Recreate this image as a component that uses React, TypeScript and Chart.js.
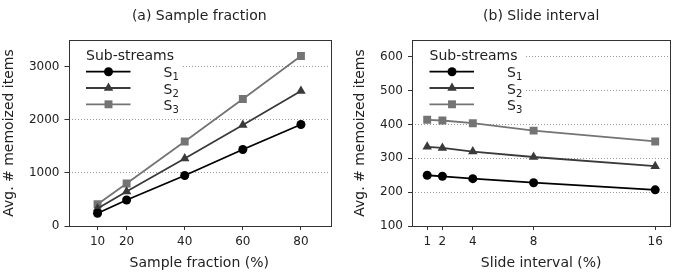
import React, { useEffect, useRef } from 'react';
import { Chart, registerables } from 'chart.js';

Chart.register(...registerables);

// ---- data ----
const seriesBase = 'S';
const seriesSubs = ['1', '2', '3'];
const seriesColors = ['#000000', '#3a3a3a', '#747474'];
const seriesStyles = ['circle', 'triangle', 'rect'];

const sampleFraction = [10, 20, 40, 60, 80];
const sfS1 = [240, 490, 950, 1440, 1910];
const sfS2 = [330, 650, 1270, 1900, 2540];
const sfS3 = [410, 800, 1590, 2390, 3200];
const sfYTicks = [0, 1000, 2000, 3000];

const slideInterval = [1, 2, 4, 8, 16];
const siS1 = [250, 247, 240, 228, 207];
const siS2 = [334, 331, 320, 304, 277];
const siS3 = [414, 412, 404, 382, 350];
const siYTicks = [100, 200, 300, 400, 500, 600];

const FONT = '"DejaVu Sans", sans-serif';
const TEXT = '#222222';

type PanelCfg = {
  title: string;
  xTitle: string;
  yTitle: string;
  xs: number[];
  ys: number[][];
  yTicks: number[];
  xMin: number;
  xMax: number;
  yMin: number;
  yMax: number;
  left: number;
  right: number;
  yTitleX: number;
};

const radii = [4.5, 5.5, 5.6];

function drawMarker(ctx: CanvasRenderingContext2D, style: string, x: number, y: number, r: number, color: string) {
  ctx.save();
  ctx.fillStyle = color;
  ctx.beginPath();
  if (style === 'circle') {
    ctx.arc(x, y, r, 0, Math.PI * 2);
  } else if (style === 'triangle') {
    ctx.moveTo(x, y - r);
    ctx.lineTo(x + Math.sin(Math.PI * 2 / 3) * r, y + r / 2);
    ctx.lineTo(x - Math.sin(Math.PI * 2 / 3) * r, y + r / 2);
    ctx.closePath();
  } else {
    const s = Math.SQRT1_2 * r;
    ctx.rect(x - s, y - s, 2 * s, 2 * s);
  }
  ctx.fill();
  ctx.restore();
}

function makeDecor(cfg: PanelCfg) {
  return {
    id: 'decor',
    beforeDatasetsDraw(chart: any) {
      const { ctx, chartArea: a } = chart;
      ctx.save();
      ctx.font = `14px ${FONT}`;
      const w = Math.max(ctx.measureText('Sub-streams').width + 18, 101) + 6;
      ctx.fillStyle = '#ffffff';
      ctx.fillRect(a.left + 1, a.top + 1, w, 73);
      ctx.restore();
    },
    afterDatasetsDraw(chart: any) {
      const { ctx, chartArea: a } = chart;
      ctx.save();
      ctx.fillStyle = TEXT;
      ctx.font = `14px ${FONT}`;
      ctx.textAlign = 'left';
      ctx.textBaseline = 'alphabetic';
      ctx.fillText('Sub-streams', a.left + 17.5, a.top + 20);
      chart.data.datasets.forEach((ds: any, i: number) => {
        const y = a.top + 31.7 + i * 16.3;
        ctx.save();
        ctx.strokeStyle = seriesColors[i];
        ctx.lineWidth = 1.8;
        ctx.beginPath();
        ctx.moveTo(a.left + 17.5, y);
        ctx.lineTo(a.left + 62, y);
        ctx.stroke();
        ctx.restore();
        drawMarker(ctx, seriesStyles[i], a.left + 40, y, radii[i], seriesColors[i]);
        ctx.fillStyle = TEXT;
        ctx.font = `14px ${FONT}`;
        const sx = a.left + 95;
        ctx.fillText(seriesBase, sx, y + 5.5);
        const sw = ctx.measureText(seriesBase).width;
        ctx.font = `10px ${FONT}`;
        ctx.fillText(seriesSubs[i], sx + sw, y + 8.5);
      });
      ctx.restore();
    },
    afterDraw(chart: any) {
      const { ctx, chartArea: a } = chart;
      ctx.save();
      ctx.strokeStyle = '#333333';
      ctx.lineWidth = 1;
      ctx.strokeRect(Math.round(a.left) + 0.5, Math.round(a.top) + 0.5, Math.round(a.right - a.left), Math.round(a.bottom - a.top));
      ctx.fillStyle = TEXT;
      ctx.font = `14px ${FONT}`;
      ctx.textAlign = 'center';
      ctx.textBaseline = 'alphabetic';
      const cx = (a.left + a.right) / 2;
      ctx.fillText(cfg.title, cx, 20);
      ctx.fillText(cfg.xTitle, cx, 267);
      ctx.translate(cfg.yTitleX, (a.top + a.bottom) / 2);
      ctx.rotate(-Math.PI / 2);
      ctx.fillText(cfg.yTitle, 0, 0);
      ctx.restore();
    },
  };
}

function Panel({ cfg }: { cfg: PanelCfg }) {
  const ref = useRef<HTMLCanvasElement>(null);
  useEffect(() => {
    if (!ref.current) return;
    const chart = new Chart(ref.current, {
      type: 'line',
      data: {
        datasets: cfg.ys.map((ys, i) => ({
          label: seriesBase + seriesSubs[i],
          data: cfg.xs.map((x, j) => ({ x, y: ys[j] })),
          borderColor: seriesColors[i],
          backgroundColor: seriesColors[i],
          borderWidth: 1.8,
          pointStyle: seriesStyles[i] as any,
          pointRadius: radii[i],
          pointBorderWidth: 0,
          pointBackgroundColor: seriesColors[i],
          tension: 0,
          fill: false,
        })),
      },
      options: {
        responsive: false,
        animation: false,
        events: [],
        layout: { padding: { left: 0, top: 40, right: cfg.right, bottom: 0 } },
        plugins: { legend: { display: false }, title: { display: false }, tooltip: { enabled: false } },
        scales: {
          x: {
            type: 'linear',
            min: cfg.xMin,
            max: cfg.xMax,
            afterBuildTicks: (s: any) => { s.ticks = cfg.xs.map((v) => ({ value: v })); },
            afterFit: (s: any) => { s.height = 51; },
            grid: { drawOnChartArea: false, drawTicks: true, tickLength: 4, tickColor: '#333333', color: '#333333' },
            border: { display: false },
            ticks: { font: { family: FONT, size: 12 }, color: TEXT, padding: 5, maxRotation: 0, autoSkip: false, callback: (v: any) => String(v) },
          },
          y: {
            type: 'linear',
            min: cfg.yMin,
            max: cfg.yMax,
            afterBuildTicks: (s: any) => { s.ticks = cfg.yTicks.map((v) => ({ value: v })); },
            afterFit: (s: any) => { s.width = cfg.left; },
            grid: { drawOnChartArea: true, drawTicks: true, tickLength: 4, tickColor: '#333333', color: '#9a9a9a', lineWidth: 1 },
            border: { display: false, dash: [1, 2] },
            ticks: { font: { family: FONT, size: 12 }, color: TEXT, padding: 5, autoSkip: false, callback: (v: any) => String(v) },
          },
        },
      },
      plugins: [makeDecor(cfg)],
    } as any);
    return () => chart.destroy();
  }, [cfg]);
  return <canvas ref={ref} width={338} height={277} style={{ display: 'block', width: 338, height: 277 }} />;
}

const leftCfg: PanelCfg = {
  title: '(a) Sample fraction',
  xTitle: 'Sample fraction (%)',
  yTitle: 'Avg. # memoized items',
  xs: sampleFraction,
  ys: [sfS1, sfS2, sfS3],
  yTicks: sfYTicks,
  xMin: 0,
  xMax: 90,
  yMin: 0,
  yMax: 3500,
  left: 68.5,
  right: 8,
  yTitleX: 12.7,
};

const rightCfg: PanelCfg = {
  title: '(b) Slide interval',
  xTitle: 'Slide interval (%)',
  yTitle: 'Avg. # memoized items',
  xs: slideInterval,
  ys: [siS1, siS2, siS3],
  yTicks: siYTicks,
  xMin: 0,
  xMax: 17,
  yMin: 100,
  yMax: 650,
  left: 74,
  right: 4,
  yTitleX: 25.5,
};

export default function App() {
  return (
    <div style={{ position: 'absolute', left: 0, top: 0, width: 676, height: 277, display: 'flex', background: '#fff' }}>
      <Panel cfg={leftCfg} />
      <Panel cfg={rightCfg} />
    </div>
  );
}
